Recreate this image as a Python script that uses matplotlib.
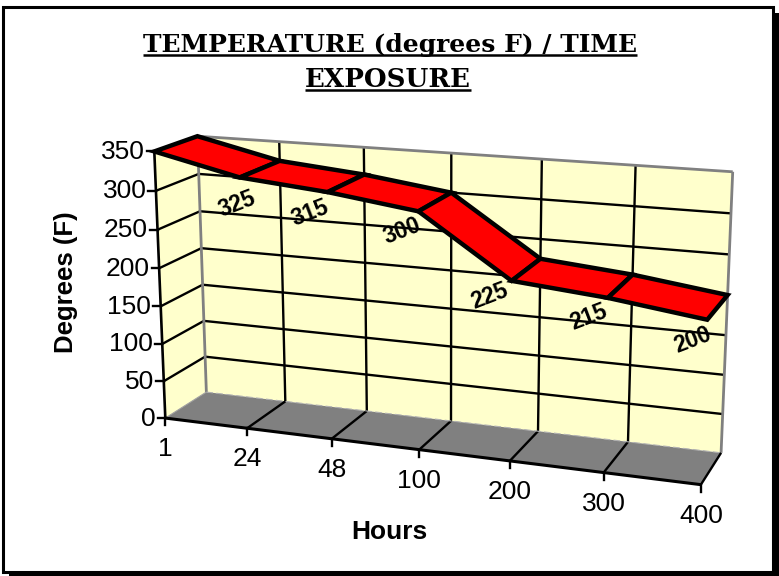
import numpy as np
import matplotlib
matplotlib.use('Agg')
import matplotlib.pyplot as plt
from matplotlib.patches import Polygon, Rectangle

hours = ['1', '24', '48', '100', '200', '300', '400']
temps = [350, 325, 315, 300, 225, 215, 200]
y_ticks = [0, 50, 100, 150, 200, 250, 300, 350]
shown_labels = [325, 315, 300, 225, 215, 200]
label_offsets = [(-4, 27), (-19, 21), (-17, 20), (-23, 15), (-20, 19), (-16, 20)]

# camera calibration: (category, depth, degrees) -> pixel
calib_3d = [(0, 0, 350), (0, 0, 0), (0, 1, 350), (0, 1, 0), (6, 1, 350), (6, 1, 0), (6, 0, 0),
            (1, 0, 0), (2, 0, 0), (3, 0, 0), (4, 0, 0), (5, 0, 0),
            (1, 1, 0), (2, 1, 0), (3, 1, 0), (4, 1, 0), (5, 1, 0)]
calib_px = [(154, 151), (165.7, 418), (197.7, 136.7), (206, 391.7), (732.7, 171.7), (721, 452.3), (700.7, 485),
            (247.3, 428.3), (331.7, 439), (419.3, 449.3), (510, 461), (603.3, 472.7),
            (285, 401.7), (366.7, 411), (451, 420.7), (538.3, 431.7), (628.3, 441.7)]


def fit_camera(pts3, pts2):
    A = []
    for (x, y, z), (u, v) in zip(pts3, pts2):
        p = [x, y, z / 100, 1]
        A.append(p + [0, 0, 0, 0] + [-u * c for c in p])
        A.append([0, 0, 0, 0] + p + [-v * c for c in p])
    return np.linalg.svd(np.array(A))[2][-1].reshape(3, 4)


cam = fit_camera(calib_3d, calib_px)


def project(x, y, z):
    h = cam @ np.array([x, y, z / 100, 1])
    return h[0] / h[2], h[1] / h[2]


n = len(hours) - 1
top = max(y_ticks)

fig = plt.figure(figsize=(7.79, 5.76), dpi=100)
ax = fig.add_axes([0, 0, 1, 1])
ax.set_xlim(0, 779)
ax.set_ylim(576, 0)
ax.axis('off')

# outer frame with the heavy shadow
ax.add_patch(Rectangle((9, 13), 770, 563, fc='k', ec='none', zorder=0))
ax.add_patch(Rectangle((3.5, 7), 769.5, 565, fc='w', ec='k', lw=2.2, zorder=1))

wall = '#FFFFCC'
ax.add_patch(Polygon([project(0, 0, 0), project(0, 0, top), project(0, 1, top), project(0, 1, 0)], fc=wall, ec='none', zorder=2))
ax.add_patch(Polygon([project(0, 1, 0), project(0, 1, top), project(n, 1, top), project(n, 1, 0)], fc=wall, ec='none', zorder=2))
ax.add_patch(Polygon([project(0, 0, 0), project(0, 1, 0), project(n, 1, 0), project(n, 0, 0)], fc='#808080', ec='none', zorder=2))


def line3d(p, q, **kw):
    a, b = project(*p), project(*q)
    ax.plot([a[0], b[0]], [a[1], b[1]], solid_capstyle='butt', **kw)


for v in y_ticks[1:-1]:
    line3d((0, 0, v), (0, 1, v), color='k', lw=1.7, zorder=3)
    line3d((0, 1, v), (n, 1, v), color='k', lw=1.7, zorder=3)
for i in range(1, n):
    line3d((i, 1, 0), (i, 1, top), color='k', lw=1.7, zorder=3)
    line3d((i, 0, 0), (i, 1, 0), color='k', lw=1.7, zorder=3)

# grey frame of the back wall
line3d((0, 1, 0), (0, 1, top), color='#808080', lw=2, zorder=3)
line3d((0, 1, top), (n, 1, top), color='#808080', lw=2, zorder=3)
line3d((n, 1, 0), (n, 1, top), color='#808080', lw=2, zorder=3)
a, b = project(0, 1, 0), project(n, 1, 0)
ax.plot([a[0], b[0]], [a[1], b[1]], color='#b0b0b0', lw=0.8, ls=(0, (6, 3)), zorder=3)
line3d((0, 0, 0), (0, 1, 0), color='#a0a0a0', lw=0.8, zorder=3)

# axes
line3d((0, 0, 0), (0, 0, top), color='k', lw=1.9, zorder=4)
line3d((0, 0, 0), (n, 0, 0), color='k', lw=2.2, zorder=4)
line3d((n, 0, 0), (n, 1, 0), color='k', lw=1.7, zorder=4)

for v in y_ticks:
    x0, y0 = project(0, 0, v)
    ax.plot([x0 - 7.5, x0], [y0, y0], color='k', lw=1.7, zorder=4)
    ax.text(x0 - 9.5, y0 + 0.5, str(v), ha='right', va='center', fontsize=19, family='Liberation Sans', zorder=5)

for i, h in enumerate(hours):
    x0, y0 = project(i, 0, 0)
    ax.plot([x0, x0], [y0, y0 + 7], color='k', lw=1.7, zorder=4)
    ax.text(x0, y0 + 31, h, ha='center', va='center', fontsize=19, family='Liberation Sans', zorder=5)

# the ribbon
for i in range(n):
    quad = [project(i, 0, temps[i]), project(i + 1, 0, temps[i + 1]),
            project(i + 1, 1, temps[i + 1]), project(i, 1, temps[i])]
    ax.add_patch(Polygon(quad, fc='#FF0000', ec='k', lw=3.2, joinstyle='miter', zorder=6))

for i, (v, off) in enumerate(zip(shown_labels, label_offsets)):
    x0, y0 = project(i + 1, 0, v)
    ax.text(x0 + off[0] + 1, y0 + off[1], str(v), rotation=21, ha='center', va='center', rotation_mode='anchor',
            fontsize=16.5, fontweight='bold', family='Liberation Sans', zorder=7)

ax.text(66, 282, 'Degrees (F)', rotation=90, ha='center', va='center', fontsize=18.5, fontweight='bold', family='Liberation Sans', zorder=5)
ax.text(389, 532, 'Hours', ha='center', va='center', fontsize=19, fontweight='bold', family='Liberation Sans', zorder=5)

# title, underlined by hand since matplotlib text has no underline
renderer = fig.canvas.get_renderer()
for txt, xx, yy, yline, size in [('TEMPERATURE (degrees F) / TIME', 390.5, 52, 55, 18),
                                 ('EXPOSURE', 388, 87, 90, 18.8)]:
    t = ax.text(xx, yy, txt, ha='center', va='baseline', fontsize=size, fontweight='bold', family='DejaVu Serif', zorder=5)
    bb = t.get_window_extent(renderer)
    ax.plot([bb.x0, bb.x1], [yline, yline], color='k', lw=1.8, solid_capstyle='butt', zorder=5)

fig.savefig('out.png', dpi=100)
